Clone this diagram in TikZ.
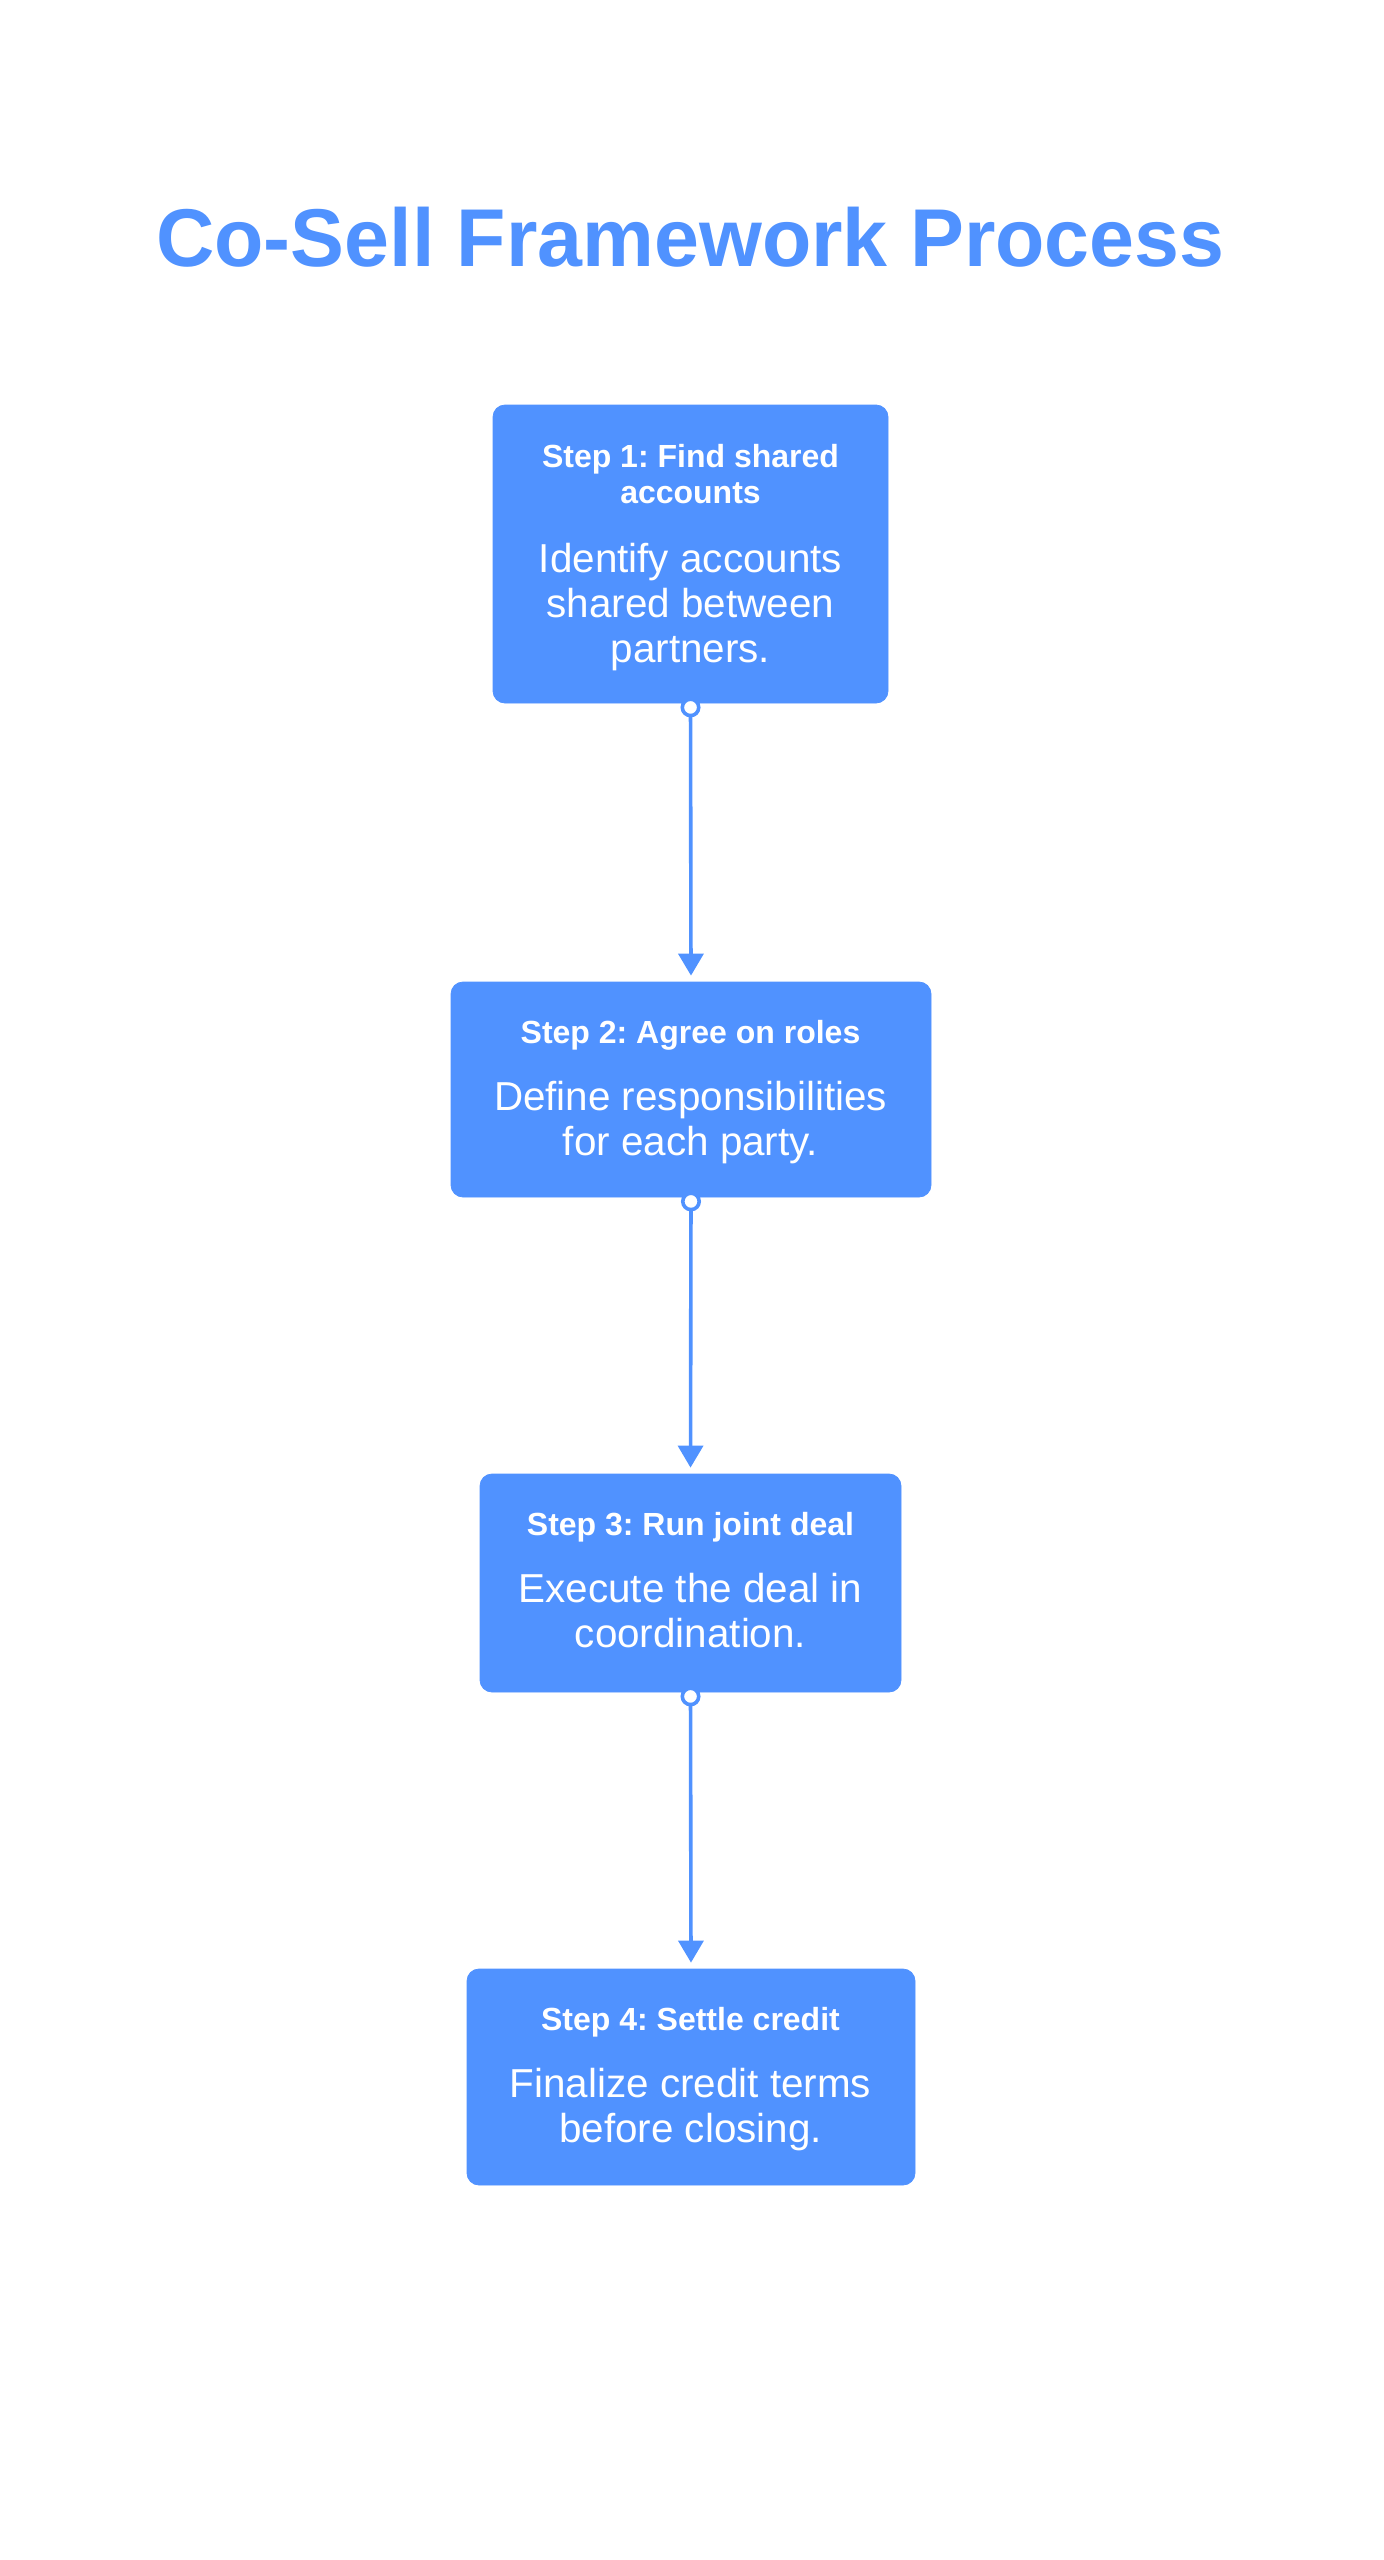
\documentclass[tikz,border=0pt]{standalone}
\usepackage{fontspec}
\setmainfont{Liberation Sans}
\usetikzlibrary{arrows.meta}
\definecolor{accent}{RGB}{80,146,255}
\frenchspacing
\begin{document}
\begin{tikzpicture}[x=0.5pt,y=-0.5pt,
  stepbox/.style={fill=accent, draw=accent, rounded corners=6pt, inner sep=0pt},
  head/.style={text=white, font=\bfseries\fontsize{16}{19}\selectfont, anchor=base, inner sep=0pt},
  body/.style={text=white, font=\fontsize{20.2}{24}\selectfont, anchor=base, inner sep=0pt},
  titlestyle/.style={text=accent, font=\bfseries\fontsize{41}{48}\selectfont, anchor=base, inner sep=0pt},
  conn/.style={draw=accent, line width=1.8pt,
    {Circle[fill=white, length=10pt, width=10pt]}-{Triangle[length=11pt, width=12.5pt]},
    shorten >=3pt}]
\useasboundingbox[fill=white] (0,0) rectangle (1383,2560);

\node[titlestyle] (title) at (690.5,266) {\scalebox{0.985}[1]{Co-Sell Framework Process}};

% boxes
\node[stepbox, minimum width=197.5pt, minimum height=149pt] (b1) at (690.5,554) {};
\node[stepbox, minimum width=240pt, minimum height=107.5pt] (b2) at (691,1089.5) {};
\node[stepbox, minimum width=210.5pt, minimum height=109pt] (b3) at (690.5,1583) {};
\node[stepbox, minimum width=224pt, minimum height=108pt] (b4) at (691,2077) {};

% box 1 text
\node[head] (h1a) at (690.5,467) {Step 1: Find shared};
\node[head] (h1b) at (690.5,503) {accounts};
\node[body] (d1a) at (690.5,572) {Identify accounts};
\node[body] (d1b) at (690.5,617) {shared between};
\node[body] (d1c) at (690.5,662) {partners.};

% box 2 text
\node[head] (h2a) at (690.5,1043) {Step 2: Agree on roles};
\node[body] (d2a) at (690.5,1110) {Define responsibilities};
\node[body] (d2b) at (690.5,1155) {for each party.};

% box 3 text
\node[head] (h3a) at (690.5,1535) {Step 3: Run joint deal};
\node[body] (d3a) at (690.5,1602) {Execute the deal in};
\node[body] (d3b) at (690.5,1647) {coordination.};

% box 4 text
\node[head] (h4a) at (690.5,2030) {Step 4: Settle credit};
\node[body] (d4a) at (690.5,2097) {Finalize credit terms};
\node[body] (d4b) at (690.5,2142) {before closing.};

% connectors
\draw[conn] ([yshift=3pt]b1.south) -- (b2.north);
\draw[conn] ([yshift=3pt]b2.south) -- (b3.north);
\draw[conn] ([yshift=3pt]b3.south) -- (b4.north);
\end{tikzpicture}
\end{document}
